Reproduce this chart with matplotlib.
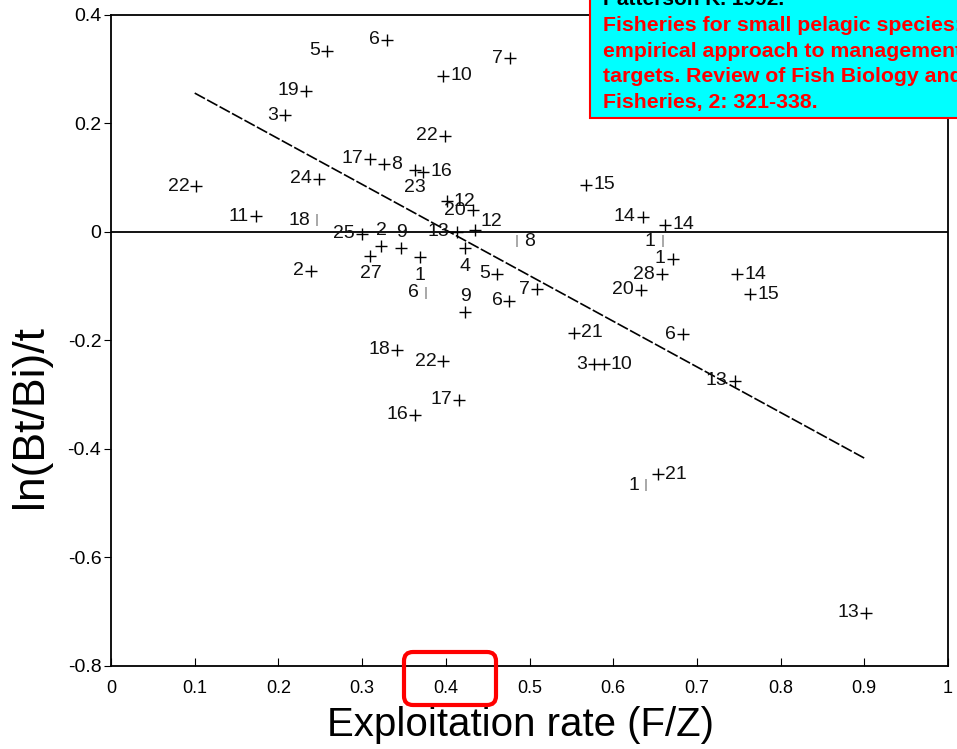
import numpy as np
import matplotlib.pyplot as plt
from matplotlib.patches import Rectangle, FancyBboxPatch
from matplotlib.transforms import IdentityTransform

# exploitation rate F/Z for each stock
f_z = [0.258, 0.330, 0.477, 0.397, 0.233, 0.208, 0.399, 0.310, 0.326, 0.363,
       0.373, 0.248, 0.102, 0.173, 0.246, 0.401, 0.432, 0.435, 0.413, 0.300,
       0.323, 0.347, 0.310, 0.369, 0.423, 0.239, 0.376, 0.461, 0.423, 0.476,
       0.509, 0.485, 0.568, 0.635, 0.662, 0.659, 0.671, 0.658, 0.633, 0.748,
       0.764, 0.553, 0.683, 0.577, 0.589, 0.745, 0.342, 0.397, 0.416, 0.363,
       0.639, 0.653, 0.902]

# biomass change rate ln(Bt/Bi)/t
ln_b = [0.334, 0.354, 0.320, 0.288, 0.260, 0.215, 0.177, 0.135, 0.125, 0.115,
        0.111, 0.098, 0.084, 0.029, 0.022, 0.057, 0.040, 0.003, 0.000, -0.003,
        -0.026, -0.030, -0.044, -0.047, -0.030, -0.072, -0.112, -0.077, -0.148, -0.127,
        -0.106, -0.017, 0.087, 0.028, 0.013, -0.017, -0.049, -0.078, -0.107, -0.078,
        -0.115, -0.186, -0.189, -0.244, -0.244, -0.274, -0.217, -0.238, -0.309, -0.337,
        -0.467, -0.447, -0.702]

# stock numbers
stock = ['5', '6', '7', '10', '19', '3', '22', '17', '8', '23',
         '16', '24', '22', '11', '18', '12', '20', '12', '13', '25',
         '2', '9', '27', '1', '4', '2', '6', '5', '9', '6',
         '7', '8', '15', '14', '14', '1', '1', '28', '20', '14',
         '15', '21', '6', '3', '10', '13', '18', '22', '17', '16',
         '1', '21', '13']

# where each number sits next to its cross
side = ['l', 'l', 'l', 'r', 'l', 'l', 'l', 'l', 'r', 'b',
        'r', 'l', 'l', 'l', 'l', 'r', 'l', 'ur', 'l', 'l',
        'a', 'a', 'b', 'b', 'b', 'l', 'l', 'l', 'a', 'l',
        'l', 'r', 'r', 'l', 'r', 'l', 'l', 'l', 'l', 'r',
        'r', 'r', 'l', 'l', 'r', 'l', 'l', 'l', 'l', 'l',
        'l', 'r', 'l']

# crosses that came out faint in print
faint = {14, 26, 31, 35, 50}

# fitted line
fit_x = [0.10, 0.90]
fit_y = [0.256, -0.417]

x_ticks = [0, 0.1, 0.2, 0.3, 0.4, 0.5, 0.6, 0.7, 0.8, 0.9, 1.0]
x_tick_labels = ['0', '0.1', '0.2', '0.3', '0.4', '0.5', '0.6', '0.7', '0.8', '0.9', '1']
y_ticks = [-0.8, -0.6, -0.4, -0.2, 0, 0.2, 0.4]
y_tick_labels = ['-0.8', '-0.6', '-0.4', '-0.2', '0', '0.2', '0.4']

ref_lines = ['Fisheries for small pelagic species: an',
             'empirical approach to management',
             'targets. Review of Fish Biology and',
             'Fisheries, 2: 321-338.']

plt.rcParams['font.family'] = ['Liberation Sans', 'DejaVu Sans']

fig = plt.figure(figsize=(9.57, 7.49), dpi=100)
ax = fig.add_axes([0.116, 0.111, 0.8746, 0.869])

ax.axhline(0, color='black', lw=1.3, zorder=1)
ax.plot(fit_x, fit_y, color='black', lw=1.2, linestyle=(0, (7, 1.5)), zorder=2)

offs = {'l': ((-5, 0), 'right'), 'r': ((5, 0), 'left'),
        'a': ((0, 11), 'center'), 'b': ((0, -13), 'center'),
        'ur': ((4, 6), 'left')}

for i, (x, y, s, p) in enumerate(zip(f_z, ln_b, stock, side)):
    if i in faint:
        ax.plot(x, y, marker='|', color='#9a9a9a', ms=9, mew=1.2, zorder=3)
    else:
        ax.plot(x, y, marker='+', color='black', ms=9, mew=1.0, zorder=3)
    (dx, dy), ha = offs[p]
    ax.annotate(s, (x, y), xytext=(dx, dy), textcoords='offset points',
                ha=ha, va='center', fontsize=14, color='#111111')

ax.set_xlim(0, 1)
ax.set_ylim(-0.8, 0.4)
ax.set_xticks(x_ticks)
ax.set_xticklabels(x_tick_labels)
ax.set_yticks(y_ticks)
ax.set_yticklabels(y_tick_labels)
ax.tick_params(axis='x', direction='in', length=6, pad=10, labelsize=13)
ax.tick_params(axis='y', direction='out', length=5, pad=2, labelsize=14)
for sp in ax.spines.values():
    sp.set_linewidth(1.3)

ax.set_xlabel('Exploitation rate (F/Z)', fontsize=29)
ax.xaxis.set_label_coords(0.489, -0.061)
ax.set_ylabel('ln(Bt/Bi)/t', fontsize=32)
ax.yaxis.set_label_coords(-0.072, 0.383)

# reference box, top right
fig.patches.append(Rectangle((590 / 957, 1 - 118 / 749), 0.6, 0.3,
                             transform=fig.transFigure, facecolor='#00ffff',
                             edgecolor='red', lw=1.5, zorder=5))
fig.text(603 / 957, 1 - 5 / 749, 'Patterson K. 1992.', color='black',
         fontsize=15, fontweight='bold', va='baseline', zorder=6)
for k, line in enumerate(ref_lines):
    fig.text(603 / 957, 1 - (31 + 25.7 * k) / 749, line, color='red',
             fontsize=15.3, fontweight='bold', va='baseline', zorder=6)

# highlight around the 0.4 tick
fig.patches.append(FancyBboxPatch((404, 44), 92, 53,
                                  boxstyle='round,pad=0,rounding_size=9',
                                  transform=IdentityTransform(), fill=False,
                                  edgecolor='red', lw=3, zorder=6))

plt.savefig('out.png', dpi=100)
